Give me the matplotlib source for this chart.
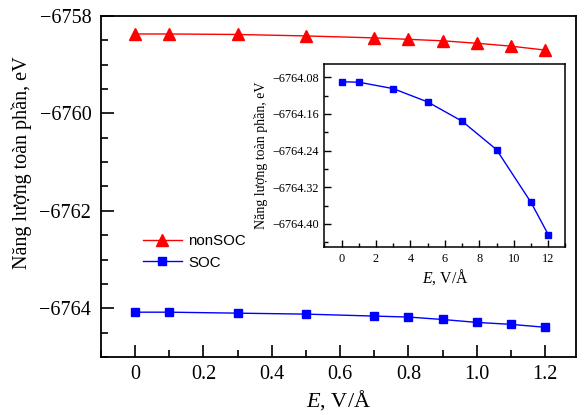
import matplotlib
matplotlib.use('Agg')
import matplotlib.pyplot as plt
from matplotlib.ticker import MultipleLocator

# main panel data
field = [0, 0.1, 0.3, 0.5, 0.7, 0.8, 0.9, 1.0, 1.1, 1.2]
e_nonsoc = [-6758.37, -6758.37, -6758.38, -6758.41, -6758.45,
            -6758.48, -6758.51, -6758.56, -6758.62, -6758.70]
e_soc = [-6764.08, -6764.08, -6764.10, -6764.12, -6764.16,
         -6764.18, -6764.23, -6764.29, -6764.33, -6764.39]

# inset data
field_inset = [0, 1, 3, 5, 7, 9, 11, 12]
e_soc_inset = [-6764.090, -6764.091, -6764.105, -6764.134,
               -6764.176, -6764.238, -6764.353, -6764.423]

serif = 'Liberation Serif'
sans = 'Liberation Sans'
plt.rcParams['font.family'] = serif
plt.rcParams['mathtext.fontset'] = 'custom'
plt.rcParams['mathtext.it'] = 'Liberation Serif:italic'
plt.rcParams['mathtext.rm'] = 'Liberation Serif'

fig = plt.figure(figsize=(5.77, 4.2), dpi=100)
ax = fig.add_axes([0.175, 0.15, 0.823, 0.812])

ax.plot(field, e_nonsoc, color='#ff0000', marker='^', markersize=8,
        linewidth=1, label='nonSOC')
ax.plot(field, e_soc, color='#0000ff', marker='s', markersize=6,
        linewidth=1, label='SOC')

ax.set_xlim(-0.1, 1.29)
ax.set_ylim(-6765, -6758)
ax.xaxis.set_minor_locator(MultipleLocator(0.1))
ax.yaxis.set_minor_locator(MultipleLocator(0.5))
ax.set_xticks([0, 0.2, 0.4, 0.6, 0.8, 1.0, 1.2])
ax.set_xticklabels(['0', '0.2', '0.4', '0.6', '0.8', '1.0', '1.2'])
ax.set_yticks([-6764, -6762, -6760, -6758])
ax.set_yticklabels(['\u22126764', '\u22126762', '\u22126760', '\u22126758'])
ax.tick_params(which='major', direction='in', length=9, width=1.2,
               labelsize=14.5, pad=7)
ax.tick_params(axis='x', which='major', pad=6)
ax.tick_params(which='minor', direction='in', length=5, width=1.2)
for s in ax.spines.values():
    s.set_linewidth(1.3)

ax.set_xlabel('$E$, V/Å', fontsize=16, labelpad=3)
ax.set_ylabel('Năng lượng toàn phần, eV', fontsize=14.5)
ax.yaxis.set_label_coords(-0.145, 0.57)

ax.legend(loc='upper left', bbox_to_anchor=(0.06, 0.40), frameon=False,
          prop={'family': sans, 'size': 10.8}, handlelength=2.6,
          handletextpad=0.4, labelspacing=0.5)

# inset
ins = fig.add_axes([0.562, 0.411, 0.418, 0.437])
ins.plot(field_inset, e_soc_inset, color='#0000ff', marker='s',
         markersize=4, linewidth=1)
ins.set_xlim(-1, 13)
ins.set_ylim(-6764.451, -6764.051)
ins.set_xticks([0, 2, 4, 6, 8, 10, 12])
ins.xaxis.set_minor_locator(MultipleLocator(1))
ins.set_yticks([-6764.40, -6764.32, -6764.24, -6764.16, -6764.08])
ins.set_yticklabels(['\u22126764.40', '\u22126764.32', '\u22126764.24',
                     '\u22126764.16', '\u22126764.08'])
ins.yaxis.set_minor_locator(MultipleLocator(0.04))
ins.tick_params(which='major', direction='in', length=5, width=1,
                labelsize=8.8, pad=4)
ins.tick_params(which='minor', direction='in', length=3, width=1)
for s in ins.spines.values():
    s.set_linewidth(1.1)
ins.set_xlabel('$E$, V/Å', fontsize=11.3, labelpad=2)
ins.set_ylabel('Năng lượng toàn phần, eV', fontsize=10, labelpad=3)

fig.savefig('out.png', dpi=100)
